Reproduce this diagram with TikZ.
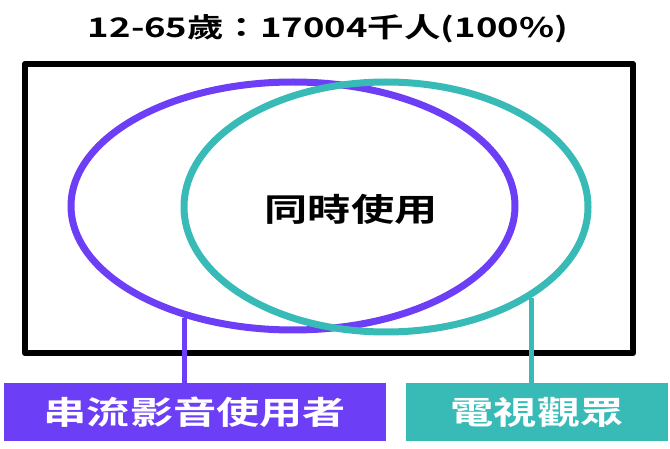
\documentclass[tikz,border=0pt]{standalone}
\usepackage{fontspec}
\setmainfont{Noto Sans CJK TC}[BoldFont={Noto Sans CJK TC Bold}]
\usetikzlibrary{shapes.geometric}
\definecolor{streampurple}{RGB}{108,62,245}
\definecolor{tvteal}{RGB}{56,187,182}
\begin{document}
\begin{tikzpicture}[x=1pt,y=-1pt,
		setring/.style={ellipse, draw=#1, line width=7pt, inner sep=0pt},
		labelbox/.style={fill=#1, text=white, inner sep=0pt, xscale=1.35, minimum height=58pt, font=\bfseries\fontsize{32}{36}\selectfont},
		linkline/.style={draw=#1, line width=5pt},
		wide/.style={xscale=1.35, inner sep=0pt, font=\bfseries\fontsize{#1}{#1}\selectfont}]
		\useasboundingbox (0,0) rectangle (670,449);
		\node[wide=27] (title) at (328,29) {12-65歲：17004千人(100\%)};
		\draw[line width=6.5pt, line join=round] (25,64) rectangle (633,353);
		\node[setring=streampurple, minimum width=444pt, minimum height=248pt] (streamset) at (293,206) {};
		\node[setring=tvteal, minimum width=404pt, minimum height=250pt] (tvset) at (386,207) {};
		\node[wide=32] (both) at (351,209) {同時使用};
		\node[labelbox=streampurple, minimum width=283pt] (streamlabel) at (195,412) {串流影音使用者};
		\node[labelbox=tvteal, minimum width=194pt] (tvlabel) at (537,412) {電視觀眾};
		\draw[linkline=streampurple] (streamset.226) -- (streamset.226 |- streamlabel.north);
		\draw[linkline=tvteal] (tvset.328) -- (tvset.328 |- tvlabel.north);
	\end{tikzpicture}
\end{document}
